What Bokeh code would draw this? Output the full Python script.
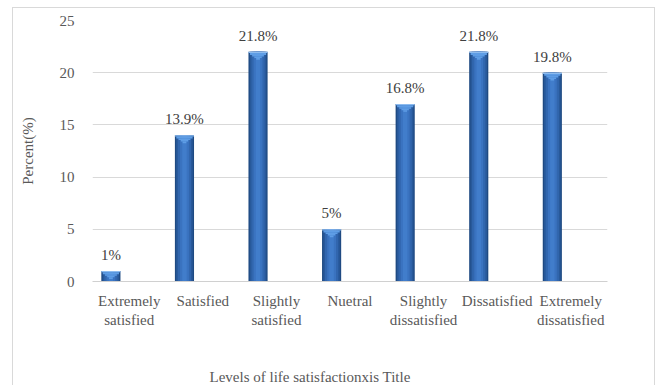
from bokeh.plotting import figure
from bokeh.models import ColumnDataSource, FactorRange, Title
from bokeh.transform import dodge
from bokeh.core.properties import value
from bokeh.embed import file_html
from bokeh.resources import INLINE

categories = ["Extremely\nsatisfied", "Satisfied", "Slightly\nsatisfied", "Nuetral",
              "Slightly\ndissatisfied", "Dissatisfied", "Extremely\ndissatisfied"]
counts = [1, 14, 22, 5, 17, 22, 20]
percent_labels = ["1%", "13.9%", "21.8%", "5%", "16.8%", "21.8%", "19.8%"]
y_ticks = [0, 5, 10, 15, 20, 25]

FONT = "Liberation Serif"
TXT = "#595959"

p = figure(width=643, height=378, output_backend="svg", toolbar_location=None,
           x_range=FactorRange(*categories), y_range=(0, 25),
           min_border_left=79, min_border_right=49, min_border_top=12, min_border_bottom=105)
p.outline_line_color = None
p.background_fill_color = "white"
p.border_fill_color = "white"
p.styles = {"margin-left": "12px", "margin-top": "7px",
            "border-left": "1px solid #D9D9D9", "border-top": "1px solid #D9D9D9",
            "border-right": "1px solid #D9D9D9"}

src = ColumnDataSource(dict(
    cat=categories, top=counts, lab=percent_labels,
    b1=[c - 0.12 for c in counts], b2=[c - 0.3 for c in counts],
    b3=[c - 0.45 for c in counts], b4=[c - 0.6 for c in counts], b5=[c - 0.75 for c in counts],
))
xd = dodge("cat", -0.25, range=p.x_range)

# cylinder-like gradient via nested bars
for w, col in [(0.26, "#1F4A82"), (0.225, "#28599A"), (0.18, "#3166AE"),
               (0.12, "#3A73C0"), (0.06, "#417DCB")]:
    p.vbar(x=xd, top="top", bottom=0, width=w, source=src, fill_color=col, line_color=None)

# top bevel
p.vbar(x=xd, top="top", bottom="b1", width=0.26, source=src, fill_color="#8CBBEF", line_color=None)
for w, b, t in [(0.22, "b2", "b1"), (0.16, "b3", "b2"), (0.10, "b4", "b3"), (0.05, "b5", "b4")]:
    p.vbar(x=xd, top=t, bottom=b, width=w, source=src, fill_color="#5E9DE5", line_color=None)

p.text(x=xd, y="top", text="lab", source=src, text_align="center", text_baseline="bottom",
       y_offset=-8, text_font=value(FONT), text_font_size="15px", text_color="#404040")

p.yaxis.ticker = y_ticks
p.yaxis.axis_line_color = None
p.yaxis.major_tick_line_color = None
p.yaxis.minor_tick_line_color = None
p.yaxis.major_label_text_font = FONT
p.yaxis.major_label_text_font_size = "15px"
p.yaxis.major_label_text_color = TXT
p.yaxis.major_label_standoff = 12
p.yaxis.axis_label = "Percent(%)"
p.yaxis.axis_label_text_font = FONT
p.yaxis.axis_label_text_font_style = "normal"
p.yaxis.axis_label_text_font_size = "15px"
p.yaxis.axis_label_text_color = TXT
p.yaxis.axis_label_standoff = 21

p.xaxis.axis_line_color = "#D0D0D0"
p.xaxis.major_tick_line_color = None
p.xaxis.minor_tick_line_color = None
p.xaxis.major_label_text_font = FONT
p.xaxis.major_label_text_font_size = "15px"
p.xaxis.major_label_text_color = TXT
p.xaxis.major_label_standoff = 5
# blank spacer label pushes the axis title panel down
p.xaxis.axis_label = " "
p.xaxis.axis_label_text_font = FONT
p.xaxis.axis_label_text_font_size = "15px"
p.xaxis.axis_label_standoff = 15

p.xgrid.grid_line_color = None
p.ygrid.grid_line_color = "#D9D9D9"
p.ygrid.ticker = y_ticks

p.add_layout(Title(text="Levels of life satisfactionxis Title", align="left", offset=117,
                   standoff=4, text_font=FONT, text_font_size="15px",
                   text_font_style="normal", text_color=TXT), "below")

open("out.html", "w").write(file_html(p, INLINE))
